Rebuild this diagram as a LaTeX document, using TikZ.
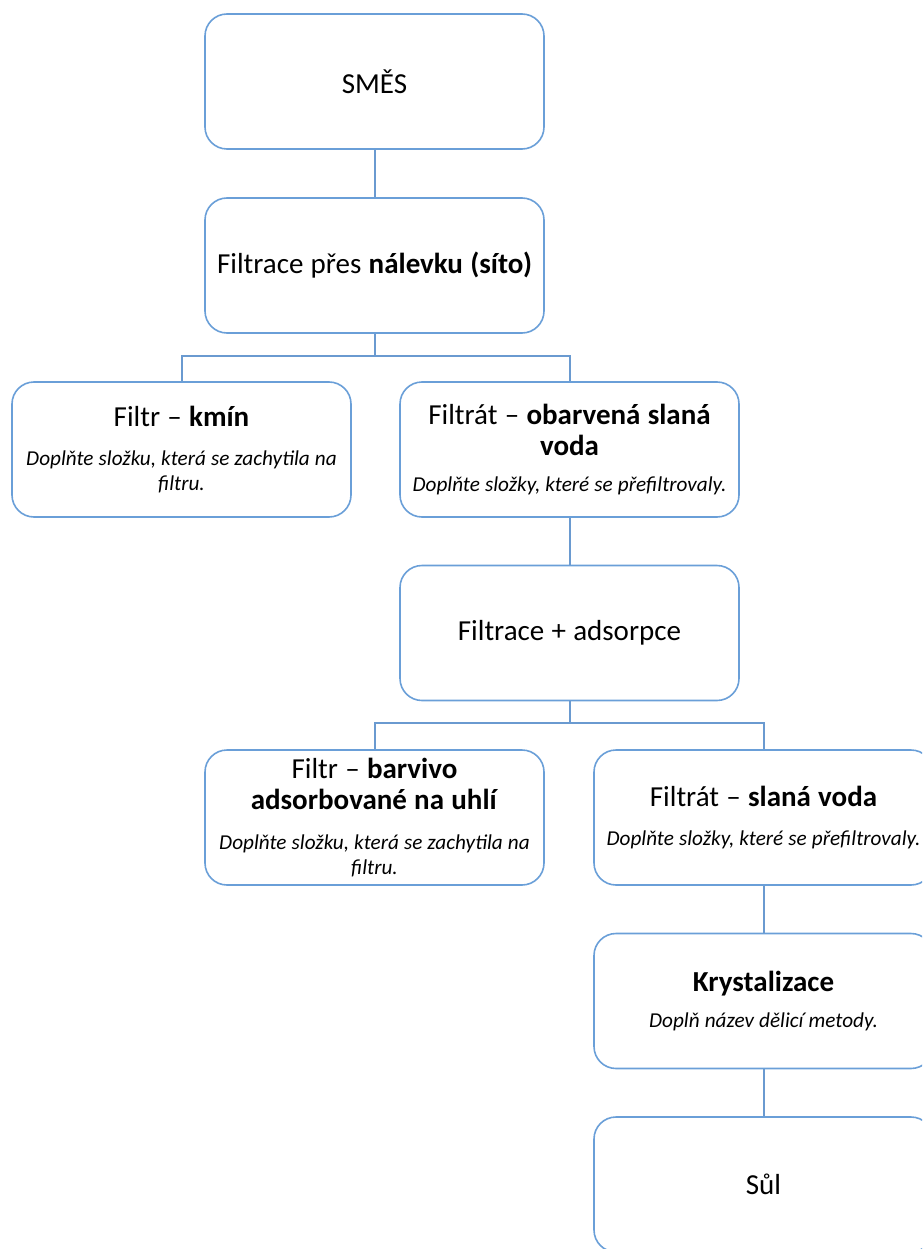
\documentclass[tikz,border=0pt]{standalone}
\usepackage{fontspec}
\setmainfont{Carlito}
\definecolor{boxblue}{HTML}{6A9FD8}
\definecolor{lineblue}{HTML}{6A9AD0}
\newcommand{\titlesize}{\fontsize{29}{31}\selectfont\spaceskip=0.25em plus 0.05em minus 0.05em\relax}
\newcommand{\hintsize}{\fontsize{21.2}{25}\selectfont\itshape\spaceskip=0.24em plus 0.05em minus 0.05em\relax}
\tikzset{
  box/.style={draw=boxblue, line width=1.6pt, rounded corners=22pt, fill=white,
    minimum width=339pt, minimum height=135pt, text width=334pt, align=flush center,
    inner sep=0pt, font=\titlesize},
  conn/.style={draw=lineblue, line width=2pt}
}
\newcommand{\hinttext}[2][12pt]{\par\vspace{#1}{\hintsize #2\par}}
\begin{document}
\begin{tikzpicture}[x=1pt,y=-1pt]
\useasboundingbox (0,0) rectangle (922,1249);
\clip (0,0) rectangle (922,1249);
\node[box] (smes) at (374.5,81.5) {SMĚS};
\node[box] (filt) at (374.5,265.5) {Filtrace přes \textbf{nálevku (síto)}};
\node[box] (kmin) at (181.5,449.5) {\titlesize Filtr – \textbf{kmín}\hinttext[14pt]{Doplňte složku, která se zachytila na\\ filtru.}};
\node[box] (obar) at (569.5,449.5) {\titlesize Filtrát – \textbf{obarvená slaná\\ voda}\hinttext[11pt]{Doplňte složky, které se přefiltrovaly.}};
\node[box] (ads) at (569.5,633) {\titlesize Filtrace + adsorpce};
\node[box] (barv) at (374.5,817.5) {\titlesize Filtr – \textbf{barvivo\\ adsorbované na uhlí}\hinttext[15pt]{Doplňte složku, která se zachytila na\\ filtru.}};
\node[box] (slana) at (763.5,817.5) {\titlesize Filtrát – \textbf{slaná voda}\hinttext[14pt]{Doplňte složky, které se přefiltrovaly.}};
\node[box] (kryst) at (763.5,1001) {\textbf{Krystalizace}\hinttext[11pt]{Doplň název dělicí metody.}};
\node[box] (sul) at (763.5,1184.5) {Sůl};
\draw[conn] (smes.south) -- (filt.north);
\draw[conn] (filt.south) -- ++(0,22) -| (kmin.north);
\draw[conn] (filt.south) -- ++(0,22) -| (obar.north);
\draw[conn] (obar.south) -- (ads.north);
\draw[conn] (ads.south) -- ++(0,22) -| (barv.north);
\draw[conn] (ads.south) -- ++(0,22) -| (slana.north);
\draw[conn] (slana.south) -- (kryst.north);
\draw[conn] (kryst.south) -- (sul.north);
\end{tikzpicture}
\end{document}
